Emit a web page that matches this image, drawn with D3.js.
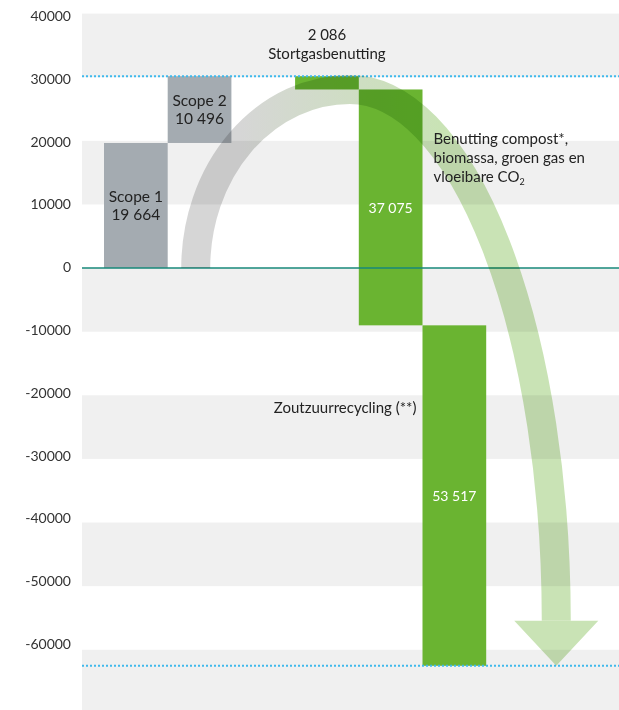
<!DOCTYPE html>
<html>
<head>
<meta charset="utf-8">
<script src="https://cdn.jsdelivr.net/npm/d3@7"></script>
<style>
  html, body { margin: 0; padding: 0; background: #fff; }
  svg { display: block; font-family: Lato, "Open Sans", sans-serif; }
</style>
</head>
<body>
<svg id="chart" width="619" height="710"></svg>
<script>
// ---- data ----
const categories = ["Scope 1", "Scope 2", "", "Stortgasbenutting", "Benutting", "Zoutzuurrecycling"];
const values = [19664, 10496, null, -2086, -37075, -53517];
const valueLabels = ["19 664", "10 496", "", "2 086", "37 075", "53 517"];
const barKinds = ["scope", "scope", "none", "reduction", "reduction", "reduction"];
const tickValues = [40000, 30000, 20000, 10000, 0, -10000, -20000, -30000, -40000, -50000, -60000];
const benuttingLines = ["Benutting compost*,", "biomassa, groen gas en", "vloeibare CO"];

// ---- scales ----
const svg = d3.select("#chart");
const W = 619, H = 710;
const plotLeft = 82;
const y = d3.scaleLinear().domain([-70000, 40000]).range([713.4, 13.6]);
const yLabel = d3.scaleLinear().domain([-60000, 40000]).range([644, 16]);
const x = d3.scaleBand().domain(categories).range([104, 104 + 6 * 63.7]).padding(0);

const grey = "#a4abb1", green = "#6ab431";

// ---- background bands ----
const bandStarts = d3.range(-70000, 40000, 20000); // grey bands [k, k+10000]
svg.append("g").selectAll("rect").data(bandStarts).join("rect")
  .attr("x", plotLeft).attr("width", W - plotLeft)
  .attr("y", d => y(d + 10000)).attr("height", d => y(d) - y(d + 10000))
  .attr("fill", "#f0f0f0");

// ---- axis labels ----
const axis = d3.axisLeft(yLabel).tickValues(tickValues).tickSize(0).tickPadding(0)
  .tickFormat(d => String(d));
const ag = svg.append("g").attr("transform", "translate(71,0)").call(axis);
ag.select(".domain").remove();
ag.selectAll("text").attr("font-family", "Lato, sans-serif").attr("font-size", 14).attr("fill", "#333");

// ---- waterfall computation ----
let run = 0;
const bars = categories.map((c, i) => {
  if (values[i] === null) return null;
  const start = run; run += values[i];
  return { cat: c, start, end: run, v: values[i], label: valueLabels[i], kind: barKinds[i] };
}).filter(Boolean);
const peak = bars[1].end;
const total = run;

// ---- bars ----
svg.append("g").selectAll("rect").data(bars).join("rect")
  .attr("x", d => x(d.cat)).attr("width", x.bandwidth())
  .attr("y", d => y(Math.max(d.start, d.end)))
  .attr("height", d => Math.abs(y(d.start) - y(d.end)))
  .attr("fill", d => d.kind === "scope" ? grey : green);

// ---- zero line ----
svg.append("line").attr("x1", plotLeft).attr("x2", W).attr("y1", y(0)).attr("y2", y(0))
  .attr("stroke", "#17897a").attr("stroke-width", 1.6);

// ---- dotted reference lines ----
svg.append("g").selectAll("line").data([peak, total]).join("line")
  .attr("x1", plotLeft).attr("x2", W).attr("y1", d => y(d)).attr("y2", d => y(d))
  .attr("stroke", "#3fb9ec").attr("stroke-width", 2).attr("stroke-dasharray", "2,2");

// ---- curved arrow ----
const defs = svg.append("defs");
const grad = defs.append("linearGradient").attr("id", "arrowGrad")
  .attr("gradientUnits", "userSpaceOnUse").attr("x1", 240).attr("y1", 0).attr("x2", 440).attr("y2", 0);
grad.append("stop").attr("offset", "0%").attr("stop-color", "#d6d6d6");
grad.append("stop").attr("offset", "100%").attr("stop-color", "#c9e3b5");

const sx = x("Scope 2") + x.bandwidth() * 0.44;
const sy = y(0);
const px = x("Benutting") - 9;
const py = y(bars[2].end);          // top of Benutting bar
const tipX = x("Zoutzuurrecycling") + x.bandwidth() * 2.1;
const tipY = y(total);
const headH = 45, headHalf = 42;
const baseY = tipY - headH;
const arrowG = svg.append("g").style("mix-blend-mode", "multiply");
arrowG.append("path")
  .attr("d", `M${sx},${sy} A${px - sx},${sy - py} 0 0 1 ${px},${py} A${tipX - px},${baseY - py} 0 0 1 ${tipX},${baseY}`)
  .attr("fill", "none").attr("stroke", "url(#arrowGrad)").attr("stroke-width", 29);
arrowG.append("path")
  .attr("d", `M${tipX - headHalf},${baseY} L${tipX + headHalf},${baseY} L${tipX},${tipY} Z`)
  .attr("fill", "#c9e3b5");

// ---- labels ----
const txt = svg.append("g").attr("font-family", "Lato, sans-serif").attr("fill", "#222");
function label(xp, yp, s, opts = {}) {
  return txt.append("text").attr("x", xp).attr("y", yp).attr("dy", "0.35em")
    .attr("text-anchor", opts.anchor || "middle").attr("font-size", opts.size || 15.5)
    .attr("fill", opts.fill || "#222").text(s);
}
// scope bars
bars.filter(d => d.kind === "scope").forEach(d => {
  const cx = x(d.cat) + x.bandwidth() / 2;
  const mid = (y(d.start) + y(d.end)) / 2;
  label(cx, mid - 9, d.cat);
  label(cx, mid + 9, d.label);
});
// stortgas
{
  const d = bars[2];
  const cx = x(d.cat) + x.bandwidth() / 2;
  label(cx, y(d.start) - 41, d.label, { size: 15 });
  label(cx, y(d.start) - 22, d.cat, { size: 15 });
}
// white inside labels
[bars[3], bars[4]].forEach(d => {
  const cx = x(d.cat) + x.bandwidth() / 2;
  const mid = (y(d.start) + y(d.end)) / 2;
  label(cx, mid + 1, d.label, { size: 14, fill: "#fff" });
});
// benutting annotation
{
  const d = bars[3];
  const lx = x(d.cat) + x.bandwidth() + 11;
  benuttingLines.forEach((s, i) => {
    const t = label(lx, y(d.start) + 49 + i * 19, s, { anchor: "start", size: 15 });
    if (i === 2) t.append("tspan").attr("font-size", 9).attr("dy", "0.35em").text("2");
  });
}
// zoutzuur annotation
{
  const d = bars[4];
  label(x(d.cat) - 6, y(d.start) + 82, "Zoutzuurrecycling (**)", { anchor: "end", size: 15 });
}
</script>
</body>
</html>
